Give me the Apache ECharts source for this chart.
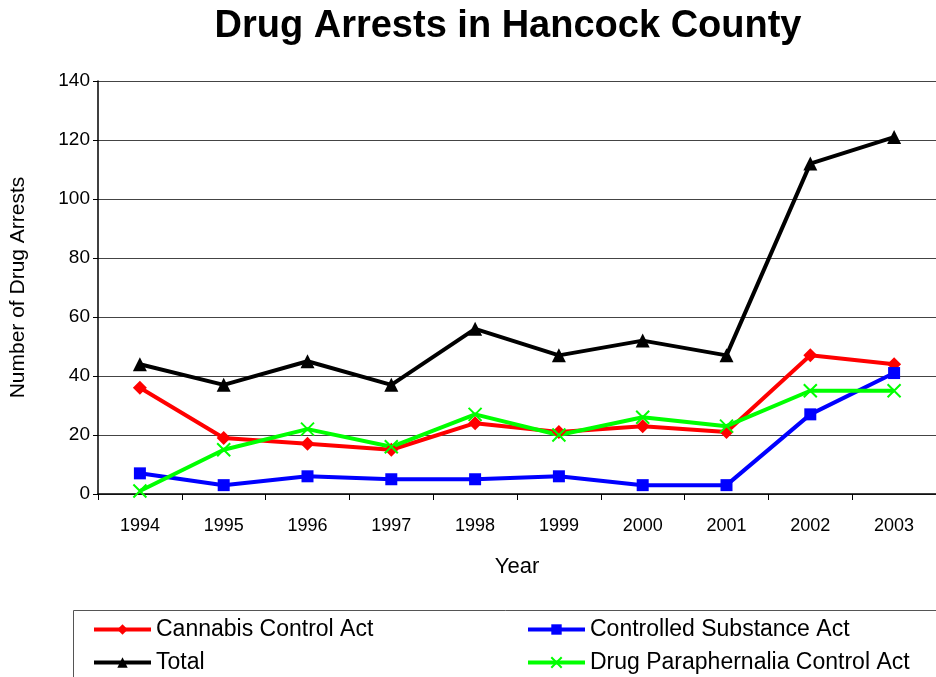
<!DOCTYPE html>
<html><head><meta charset="utf-8">
<script src="https://cdn.jsdelivr.net/npm/echarts@6/dist/echarts.min.js"></script>
<style>html,body{margin:0;padding:0;background:#fff}#c{width:936px;height:677px}</style>
</head><body><div id="c"></div>
<script>
var years = ['1994','1995','1996','1997','1998','1999','2000','2001','2002','2003'];
var cannabis = [36,19,17,15,24,21,23,21,47,44];
var controlled = [7,3,6,5,5,6,3,3,27,41];
var total = [44,37,45,37,56,47,52,47,112,121];
var paraphernalia = [1,15,22,16,27,20,26,23,35,35];
var yTicks = [0,20,40,60,80,100,120,140];

var F = 'Liberation Sans, Arial, sans-serif';
var xPath = 'path://M0,0 L10,10 M10,0 L0,10';
function mk(name, data, color, symbol, size, extra) {
  var s = {
    name: name, type: 'line', data: data, symbol: symbol, symbolSize: size,
    lineStyle: {color: color, width: 4}, itemStyle: {color: color},
    animation: false
  };
  if (extra) Object.assign(s, extra);
  return s;
}
var chart = echarts.init(document.getElementById('c'));
function lg(name, left, top) {
  return {data:[name], left:left, top:top, itemWidth:57, itemHeight:13, itemGap:0, padding:0,
    lineStyle:{width:4},
    textStyle:{fontFamily:F, fontSize:23, color:'#000', padding:[0,0,0,0]}, selectedMode:false};
}
chart.setOption({
  animation: false,
  grid: {left:98, right:-1, top:81, bottom:183, containLabel:false},
  xAxis: {type:'category', data:years, boundaryGap:true,
    name:'Year', nameLocation:'middle', nameGap:62,
    nameTextStyle:{fontFamily:F, fontSize:22, color:'#000'},
    axisLine:{lineStyle:{color:'#000', width:1.5}},
    axisTick:{show:true, alignWithLabel:false, length:6, lineStyle:{color:'#000'}},
    axisLabel:{fontFamily:F, fontSize:18, color:'#000', margin:23}},
  yAxis: {type:'value', min:yTicks[0], max:yTicks[yTicks.length-1], interval:20,
    name:'Number of Drug Arrests', nameLocation:'middle', nameGap:69, nameRotate:90,
    nameTextStyle:{fontFamily:F, fontSize:21, color:'#000'},
    axisLine:{show:true, lineStyle:{color:'#000', width:1.5}},
    axisTick:{show:true, length:5, lineStyle:{color:'#000'}},
    axisLabel:{fontFamily:F, fontSize:19, color:'#000', margin:8},
    splitLine:{show:true, lineStyle:{color:'#444', width:1}}},
  legend: [
    lg('Cannabis Control Act', 92, 618),
    lg('Controlled Substance Act', 526, 618),
    lg('Total', 92, 651),
    lg('Drug Paraphernalia Control Act', 526, 651)
  ],
  graphic: [
    {type:'text', x:508, y:27, style:{text:'Drug Arrests in Hancock County', fontFamily:F,
      fontSize:38, fontWeight:'bold', fill:'#000', align:'center', verticalAlign:'middle'}, silent:true},
    {type:'rect', shape:{x:73.5, y:610.5, width:880, height:80},
      style:{fill:'none', stroke:'#555', lineWidth:1}, silent:true}],
  series: [
    mk('Cannabis Control Act', cannabis, '#ff0000', 'diamond', 14),
    mk('Controlled Substance Act', controlled, '#0000ff', 'rect', 12),
    mk('Total', total, '#000000', 'triangle', 14),
    mk('Drug Paraphernalia Control Act', paraphernalia, '#00ff00', xPath, 13,
       {itemStyle:{color:'#00ff00', borderColor:'#00ff00', borderWidth:2}})
  ]
});
</script></body></html>
